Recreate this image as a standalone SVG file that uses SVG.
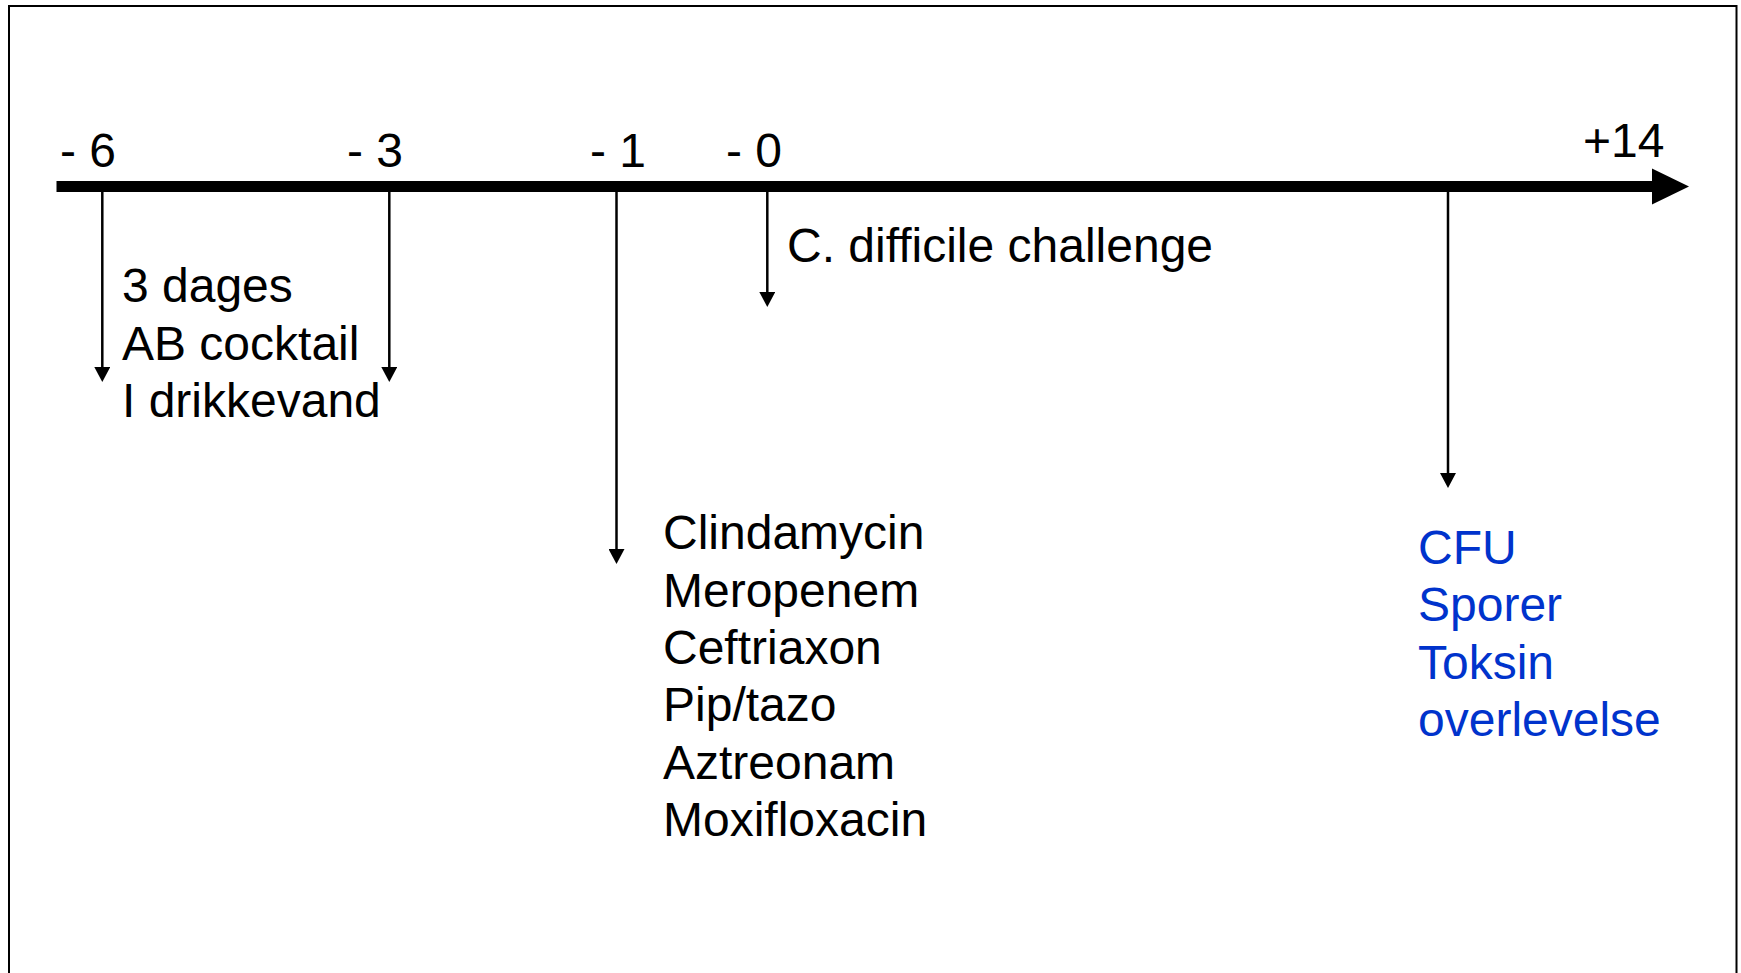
<svg xmlns="http://www.w3.org/2000/svg" width="1741" height="973" viewBox="0 0 1741 973">
  <style>
    .t { font-family: "Liberation Sans", Arial, sans-serif; font-size: 48px; fill: #000; }
    .blue { fill: #0033cc; }
    .stem { stroke: #000; stroke-width: 2.5; fill: none; }
  </style>
  <defs>
    <marker id="ah" markerUnits="userSpaceOnUse" markerWidth="15" markerHeight="16" refX="0" refY="8" orient="auto" viewBox="0 0 15 16">
      <path d="M0,0 L15,8 L0,16 z" fill="#000"/>
    </marker>
  </defs>
  <rect x="0" y="0" width="1741" height="973" fill="#fff"/>
  <rect id="frame" x="9" y="6" width="1727.5" height="1000" fill="none" stroke="#000" stroke-width="2"/>

  <g id="axis">
    <rect x="56.5" y="181" width="1597" height="11" fill="#000"/>
    <path d="M1652,168.5 L1689,186.5 L1652,204.5 z" fill="#000"/>
  </g>

  <g id="connectors">
    <line class="stem" x1="102.3" y1="190" x2="102.3" y2="367" marker-end="url(#ah)"/>
    <line class="stem" x1="389.3" y1="190" x2="389.3" y2="367" marker-end="url(#ah)"/>
    <line class="stem" x1="616.5" y1="190" x2="616.5" y2="549" marker-end="url(#ah)"/>
    <line class="stem" x1="767.3" y1="190" x2="767.3" y2="292" marker-end="url(#ah)"/>
    <line class="stem" x1="1448" y1="190" x2="1448" y2="473" marker-end="url(#ah)"/>
  </g>

  <g id="tick-m6"><text class="t" x="60" y="167">- 6</text></g>
  <g id="tick-m3"><text class="t" x="347" y="167">- 3</text></g>
  <g id="tick-m1"><text class="t" x="590" y="167">- 1</text></g>
  <g id="tick-m0"><text class="t" x="726" y="167">- 0</text></g>
  <g id="tick-p14"><text class="t" x="1583" y="157">+14</text></g>

  <g id="node-cocktail">
    <text class="t" x="122" y="302">3 dages</text>
    <text class="t" x="122" y="359.5">AB cocktail</text>
    <text class="t" x="122" y="417">I drikkevand</text>
  </g>

  <g id="node-challenge">
    <text class="t" x="787" y="262">C. difficile challenge</text>
  </g>

  <g id="node-drugs">
    <text class="t" x="663" y="549.3">Clindamycin</text>
    <text class="t" x="663" y="606.6">Meropenem</text>
    <text class="t" x="663" y="663.9">Ceftriaxon</text>
    <text class="t" x="663" y="721.2">Pip/tazo</text>
    <text class="t" x="663" y="778.5">Aztreonam</text>
    <text class="t" x="663" y="835.8">Moxifloxacin</text>
  </g>

  <g id="node-outcomes">
    <text class="t blue" x="1418" y="564">CFU</text>
    <text class="t blue" x="1418" y="621.3">Sporer</text>
    <text class="t blue" x="1418" y="678.6">Toksin</text>
    <text class="t blue" x="1418" y="736">overlevelse</text>
  </g>
</svg>
